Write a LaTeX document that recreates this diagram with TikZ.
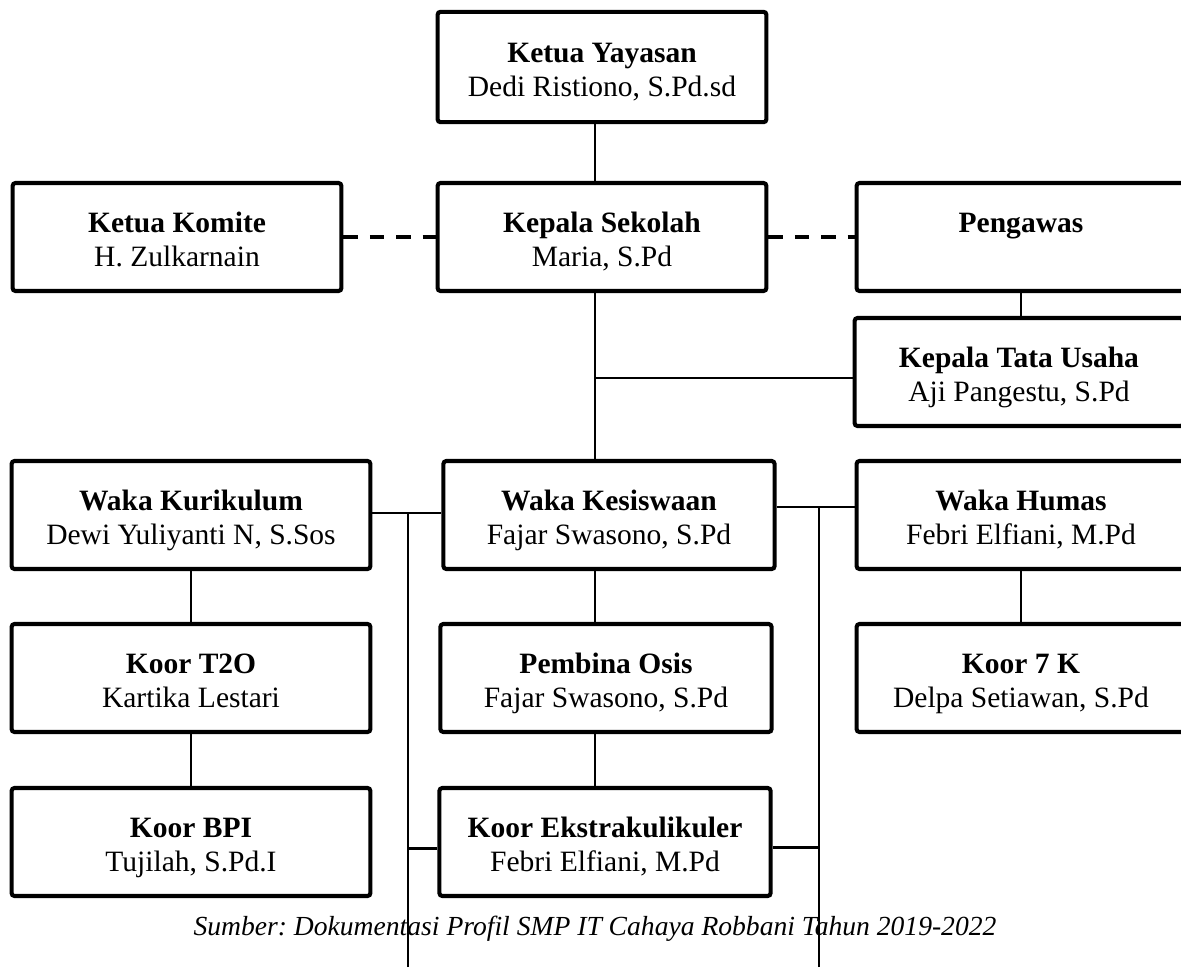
\documentclass[tikz,border=0pt]{standalone}
\usepackage{fontspec}
\setmainfont{Liberation Serif}
\usetikzlibrary{positioning, calc}
\frenchspacing
% title line and name line of a unit box
\newcommand{\orgtext}[2]{\rule{0pt}{14.4pt}\textbf{#1}\\#2\rule[-4pt]{0pt}{4pt}}

\begin{document}
\begin{tikzpicture}[
    x=0.4167pt, y=-0.4167pt,
    font=\fontsize{12.3}{14.2}\selectfont,
    box/.style={draw, line width=1.7pt, rounded corners=1.2pt, align=center, inner sep=0pt, minimum width=137pt, minimum height=45pt},
    widebox/.style={box, minimum width=149.5pt},
    link/.style={line width=1.1pt},
    dashlink/.style={line width=1.6pt, dash pattern=on 6pt off 5pt}
]
    \useasboundingbox (0,0) rectangle (1181,967);
    \clip (0,0) rectangle (1181,967);

    % top levels
    \node[box, minimum height=46pt] (yayasan) at (602,67) {\orgtext{Ketua Yayasan}{Dedi Ristiono, S.Pd.sd}};
    \node[box] (komite) at (177,237) {\orgtext{Ketua Komite}{H. Zulkarnain}};
    \node[box] (kepsek) at (602,237) {\orgtext{Kepala Sekolah}{Maria, S.Pd}};
    \node[box] (pengawas) at (1021,237) {\orgtext{Pengawas}{}};
    \node[box] (tatausaha) at (1019,372) {\orgtext{Kepala Tata Usaha}{Aji Pangestu, S.Pd}};

    % waka row
    \node[widebox] (kurikulum) at (191,515) {\orgtext{Waka Kurikulum}{Dewi Yuliyanti N, S.Sos}};
    \node[box, minimum width=138pt] (kesiswaan) at (609,515) {\orgtext{Waka Kesiswaan}{Fajar Swasono, S.Pd}};
    \node[box] (humas) at (1021,515) {\orgtext{Waka Humas}{Febri Elfiani, M.Pd}};

    % koordinator rows
    \node[widebox] (tto) at (191,678) {\orgtext{Koor T2O}{Kartika Lestari}};
    \node[box, minimum width=138pt] (osis) at (606,678) {\orgtext{Pembina Osis}{Fajar Swasono, S.Pd}};
    \node[box] (tujuhk) at (1021,678) {\orgtext{Koor 7 K}{Delpa Setiawan, S.Pd}};
    \node[widebox] (bpi) at (191,842) {\orgtext{Koor BPI}{Tujilah, S.Pd.I}};
    \node[box, minimum width=138pt] (ekstra) at (605,842) {\orgtext{Koor Ekstrakulikuler}{Febri Elfiani, M.Pd}};

    \node[font=\fontsize{11.5}{14}\selectfont\itshape] (sumber) at (595,929) {Sumber: Dokumentasi Profil SMP IT Cahaya Robbani Tahun 2019-2022};

    \coordinate (spine) at (595,0);
    \coordinate (busL) at (408,967);
    \coordinate (busR) at (819,967);

    % connectors
    \draw[link] (yayasan.south -| spine) -- (kepsek.north -| spine);
    \draw[dashlink] (komite.east) -- (kepsek.west);
    \draw[dashlink] (kepsek.east) -- (pengawas.west);
    \draw[link] (pengawas.south) -- (pengawas.south |- tatausaha.north);
    \draw[link] (kepsek.south -| spine) -- (kesiswaan.north -| spine);
    \draw[link] ([yshift=-2.5pt]tatausaha.west) -- ([yshift=-2.5pt]tatausaha.west -| spine);
    \draw[link] ([yshift=0.8pt]kurikulum.east) -- ([yshift=0.8pt]kesiswaan.west);
    \draw[link] ([yshift=3.3pt]kesiswaan.east) -- ([yshift=3.3pt]humas.west);
    \draw[link] (busL) -- ([yshift=0.8pt]busL |- kurikulum.east);
    \draw[link] (busR) -- ([yshift=3.3pt]busR |- humas.west);
    \draw[link] ([yshift=-2.8pt]ekstra.west) -- ([yshift=-2.8pt]ekstra.west -| busL);
    \draw[link] ([yshift=-2.2pt]ekstra.east) -- ([yshift=-2.2pt]ekstra.east -| busR);
    \draw[link] (kurikulum) -- (tto);
    \draw[link] (tto) -- (bpi);
    \draw[link] (kesiswaan.south -| spine) -- (osis.north -| spine);
    \draw[link] (osis.south -| spine) -- (ekstra.north -| spine);
    \draw[link] (humas) -- (tujuhk);
\end{tikzpicture}
\end{document}
